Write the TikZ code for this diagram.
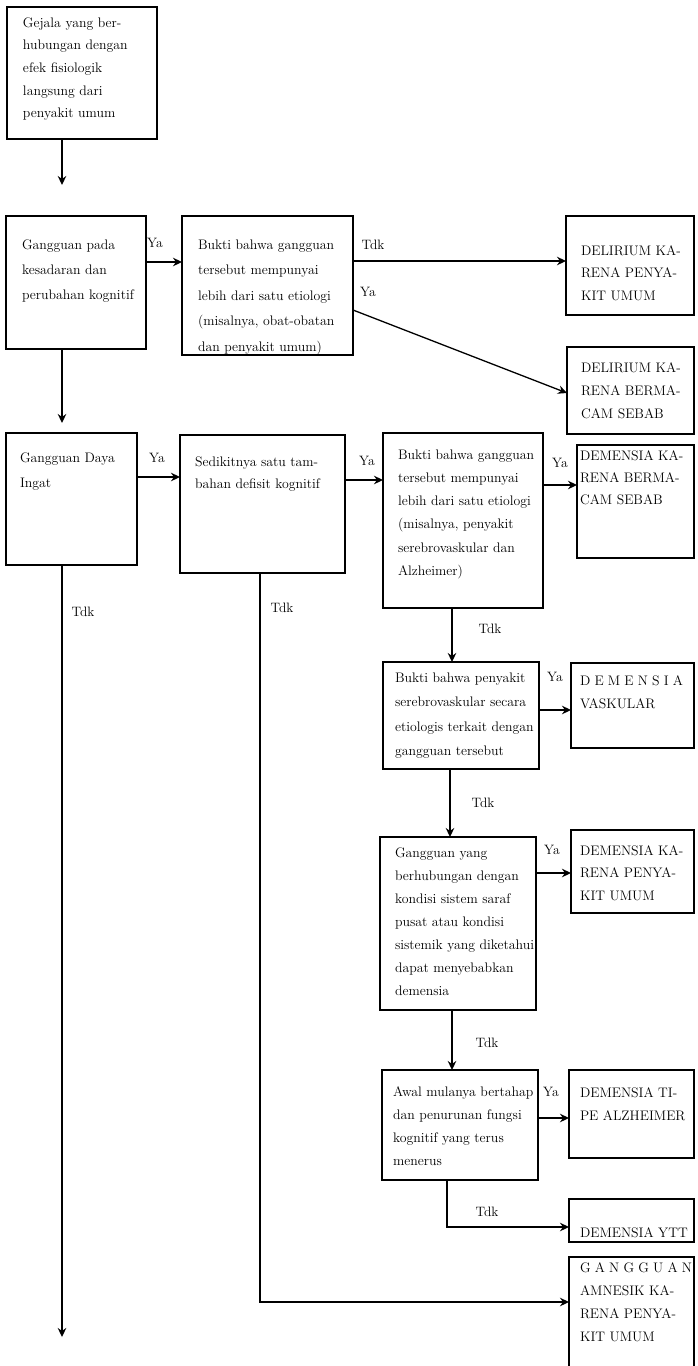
\documentclass[tikz,border=0pt]{standalone}
\usetikzlibrary{arrows.meta}
\tikzset{
  box/.style={draw, line width=1.3pt, inner sep=0pt, outer sep=0pt},
  txt/.style={inner sep=0pt, outer sep=0pt, anchor=north west, align=left},
  lab/.style={inner sep=0pt, font=\fontsize{13.6}{13.6}\selectfont},
  arr/.style={line width=1.3pt, -{Stealth[length=9pt,width=8.5pt]}},
}
\newcommand\mybox[5]{\node[box, minimum width=#4pt-#2pt, minimum height=#5pt-#3pt] (#1) at ({(#2+#4)/2},{(#3+#5)/2}) {};}
\newcommand\mytext[5]{\node[txt, font=\fontsize{13.8}{#5}\selectfont] (#1) at (#2,#3-10.5) {\rule{0pt}{10.5pt}#4};}
\begin{document}
\begin{tikzpicture}[x=1pt,y=-1pt]
\useasboundingbox (0,0) rectangle (697,1366);
% boxes
\mybox{A}{7}{7}{157}{139}
\mybox{B}{6}{216}{146}{349}
\mybox{C}{182}{216}{353}{355}
\mybox{D1}{566}{216}{694}{315}
\mybox{D2}{567}{347}{694}{434}
\mybox{E}{6}{433}{137}{565}
\mybox{F}{180}{435}{345}{573}
\mybox{G}{383}{433}{543}{608}
\mybox{H}{577}{445}{694}{558}
\mybox{I}{383}{662}{539}{769}
\mybox{I2}{571}{663}{694}{748}
\mybox{J}{380}{837}{536}{1010}
\mybox{J2}{571}{830}{694}{913}
\mybox{K}{382}{1070}{538}{1180}
\mybox{K2}{569}{1070}{694}{1158}
\mybox{L}{569}{1199}{694}{1242}
\mybox{M}{569}{1257}{694}{1380}
% texts
\mytext{At}{23}{27}{Gejala yang ber-\\hubungan dengan\\efek fisiologik\\langsung dari\\penyakit umum}{22.7}
\mytext{Bt}{22}{249}{Gangguan pada\\kesadaran dan\\perubahan kognitif}{25}
\mytext{Ct}{198}{249}{Bukti bahwa gangguan\\tersebut mempunyai\\lebih dari satu etiologi\\(misalnya, obat-obatan\\dan penyakit umum)}{25.5}
\mytext{D1t}{581}{255}{DELIRIUM KA-\\RENA PENYA-\\KIT UMUM}{22.5}
\mytext{D2t}{581}{372}{DELIRIUM KA-\\RENA BERMA-\\CAM SEBAB}{23}
\mytext{Et}{20}{462}{Gangguan Daya\\Ingat}{25}
\mytext{Ft}{195}{466}{Sedikitnya satu tam-\\bahan defisit kognitif}{22}
\mytext{Gt}{398}{459}{Bukti bahwa gangguan\\tersebut mempunyai\\lebih dari satu etiologi\\(misalnya, penyakit\\serebrovaskular dan\\Alzheimer)}{23.3}
\mytext{Ht}{580}{460}{DEMENSIA KA-\\RENA BERMA-\\CAM SEBAB}{22}
\mytext{It}{395}{682}{Bukti bahwa penyakit\\serebrovaskular secara\\etiologis terkait dengan\\gangguan tersebut}{24.5}
\mytext{I2t}{580}{685}{\makebox[103pt][s]{D E M E N S I A}\\VASKULAR}{23}
\mytext{Jt}{395}{857}{Gangguan yang\\berhubungan dengan\\kondisi sistem saraf\\pusat atau kondisi\\sistemik yang diketahui\\dapat menyebabkan\\demensia}{23}
\mytext{J2t}{580}{855}{DEMENSIA KA-\\RENA PENYA-\\KIT UMUM}{22.5}
\mytext{Kt}{393}{1096}{Awal mulanya bertahap\\dan penurunan fungsi\\kognitif yang terus\\menerus}{23.3}
\mytext{K2t}{580}{1097}{DEMENSIA TI-\\PE ALZHEIMER}{23}
\mytext{Lt}{580}{1237}{DEMENSIA YTT}{23}
\mytext{Mt}{580}{1272}{\makebox[112pt][s]{G A N G G U A N}\\AMNESIK KA-\\RENA PENYA-\\KIT UMUM}{23.3}
% labels
\node[lab] (l1) at (155,243) {Ya};
\node[lab] (l2) at (373,245) {Tdk};
\node[lab] (l3) at (368,292) {Ya};
\node[lab] (l4) at (157,458) {Ya};
\node[lab] (l5) at (83,612) {Tdk};
\node[lab] (l6) at (367,461) {Ya};
\node[lab] (l7) at (282,608) {Tdk};
\node[lab] (l8) at (560,463) {Ya};
\node[lab] (l9) at (490,629) {Tdk};
\node[lab] (l10) at (555,677) {Ya};
\node[lab] (l11) at (483,803) {Tdk};
\node[lab] (l12) at (552,850) {Ya};
\node[lab] (l13) at (487,1043) {Tdk};
\node[lab] (l14) at (551,1092) {Ya};
\node[lab] (l15) at (487,1212) {Tdk};
% connectors
\coordinate (a1) at (62,185);
\draw[arr] (A.south -| a1) -- (a1);
\coordinate (b1) at (62,423);
\draw[arr] (B.south -| b1) -- (b1);
\draw[arr] (B.east |- 0,262) -- (C.west |- 0,262);
\draw[arr] (C.east |- 0,261) -- (D1.west |- 0,261);
\draw[arr] (C.east |- 0,310) -- (D2.west |- 0,393);
\draw[arr] (E.east |- 0,477) -- (F.west |- 0,477);
\coordinate (e1) at (62,1337);
\draw[arr] (E.south -| e1) -- (e1);
\draw[arr] (F.east |- 0,480) -- (G.west |- 0,480);
\coordinate (f1) at (260,1302);
\draw[arr] (F.south -| f1) -- (f1) -- (M.west |- f1);
\draw[arr] (G.east |- 0,485) -- (H.west |- 0,485);
\draw[arr] (G.south -| 452,0) -- (I.north -| 452,0);
\draw[arr] (I.east |- 0,710) -- (I2.west |- 0,710);
\draw[arr] (I.south -| 450,0) -- (J.north -| 450,0);
\draw[arr] (J.east |- 0,873) -- (J2.west |- 0,873);
\draw[arr] (J.south -| 452,0) -- (K.north -| 452,0);
\draw[arr] (K.east |- 0,1118) -- (K2.west |- 0,1118);
\coordinate (k1) at (447,1227);
\draw[arr] (K.south -| k1) -- (k1) -- (L.west |- k1);
\end{tikzpicture}
\end{document}
